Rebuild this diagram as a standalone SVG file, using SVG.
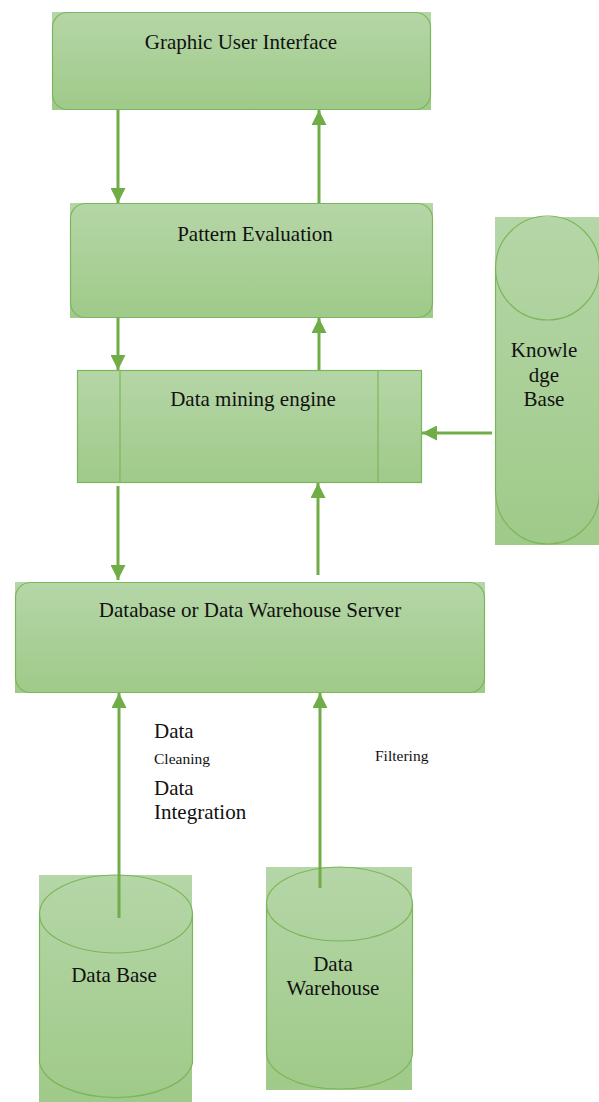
<svg xmlns="http://www.w3.org/2000/svg" width="599" height="1102" viewBox="0 0 599 1102">
  <defs>
    <linearGradient id="g" x1="0" y1="0" x2="0" y2="1">
      <stop offset="0" stop-color="#b5d6a7"/>
      <stop offset="1" stop-color="#9fca89"/>
    </linearGradient>
    <marker id="ah" viewBox="0 0 10 10" refX="10" refY="5" markerWidth="5" markerHeight="5" markerUnits="strokeWidth" orient="auto">
      <path d="M0,0 L10,5 L0,10 Z" fill="#70ad47"/>
    </marker>
    <style>
      .bg { fill: url(#g); }
      .ol { fill: none; stroke: #7cb65a; stroke-width: 1.2; }
      .t { font-family: "Liberation Serif", "Times New Roman", "DejaVu Serif", serif; fill: #111; text-anchor: middle; }
      .l { text-anchor: start; }
      .big { font-size: 21px; }
      .sm { font-size: 15.5px; }
      .c { stroke: #70ad47; stroke-width: 3; fill: none; marker-end: url(#ah); }
    </style>
  </defs>

  <g id="gui">
    <rect class="bg" x="52" y="12" width="379" height="98"/>
    <rect class="ol" x="52.5" y="12.5" width="378" height="97" rx="15"/>
    <text class="t big" x="241" y="49">Graphic User Interface</text>
  </g>

  <g id="pattern-evaluation">
    <rect class="bg" x="70" y="203" width="363" height="115"/>
    <rect class="ol" x="70.5" y="203.5" width="362" height="114" rx="15"/>
    <text class="t big" x="255" y="241">Pattern Evaluation</text>
  </g>

  <g id="data-mining-engine">
    <rect class="bg" x="77" y="370" width="345" height="113"/>
    <rect class="ol" x="77.5" y="370.5" width="344" height="112"/>
    <line class="ol" x1="120" y1="370.5" x2="120" y2="482.5"/>
    <line class="ol" x1="378" y1="370.5" x2="378" y2="482.5"/>
    <text class="t big" x="253" y="406">Data mining engine</text>
  </g>

  <g id="knowledge-base">
    <rect class="bg" x="495" y="217" width="104" height="328"/>
    <path class="ol" d="M495.5,268 A52,52 0 0 1 599.5,268 L599.5,492 A52,52 0 0 1 495.5,492 Z"/>
    <path class="ol" d="M495.5,268 A52,52 0 0 0 599.5,268"/>
    <text class="t big" x="544" y="357">Knowle</text>
    <text class="t big" x="544" y="382">dge</text>
    <text class="t big" x="544" y="406">Base</text>
  </g>

  <g id="db-server">
    <rect class="bg" x="15" y="582" width="470" height="111"/>
    <rect class="ol" x="15.5" y="582.5" width="469" height="110" rx="15"/>
    <text class="t big" x="250" y="617">Database or Data Warehouse Server</text>
  </g>

  <g id="data-base">
    <rect class="bg" x="39" y="875" width="153" height="227"/>
    <path class="ol" d="M39.5,914 L39.5,1063 A77,39 0 0 0 192.5,1063 L192.5,914"/>
    <ellipse class="ol" cx="116" cy="914" rx="76.5" ry="39"/>
    <text class="t big" x="114" y="982">Data Base</text>
  </g>

  <g id="data-warehouse">
    <rect class="bg" x="266" y="867" width="146" height="223"/>
    <path class="ol" d="M266.5,904 L266.5,1052 A73,37 0 0 0 412.5,1052 L412.5,904"/>
    <ellipse class="ol" cx="339.5" cy="904" rx="73" ry="37"/>
    <text class="t big" x="333" y="971">Data</text>
    <text class="t big" x="333" y="995">Warehouse</text>
  </g>

  <g id="labels">
    <text class="t big l" x="154" y="738">Data</text>
    <text class="t sm l" x="154" y="764">Cleaning</text>
    <text class="t big l" x="154" y="795">Data</text>
    <text class="t big l" x="154" y="819">Integration</text>
    <text class="t sm l" x="375" y="761">Filtering</text>
  </g>

  <g id="connectors">
    <line class="c" x1="118" y1="110" x2="118" y2="203"/>
    <line class="c" x1="319" y1="203" x2="319" y2="110"/>
    <line class="c" x1="118" y1="318" x2="118" y2="370"/>
    <line class="c" x1="319" y1="370" x2="319" y2="318"/>
    <line class="c" x1="492" y1="433" x2="422" y2="433"/>
    <line class="c" x1="118" y1="486" x2="118" y2="580"/>
    <line class="c" x1="318" y1="575" x2="318" y2="483"/>
    <line class="c" x1="119" y1="918" x2="119" y2="693"/>
    <line class="c" x1="320" y1="888" x2="320" y2="693"/>
  </g>
</svg>
